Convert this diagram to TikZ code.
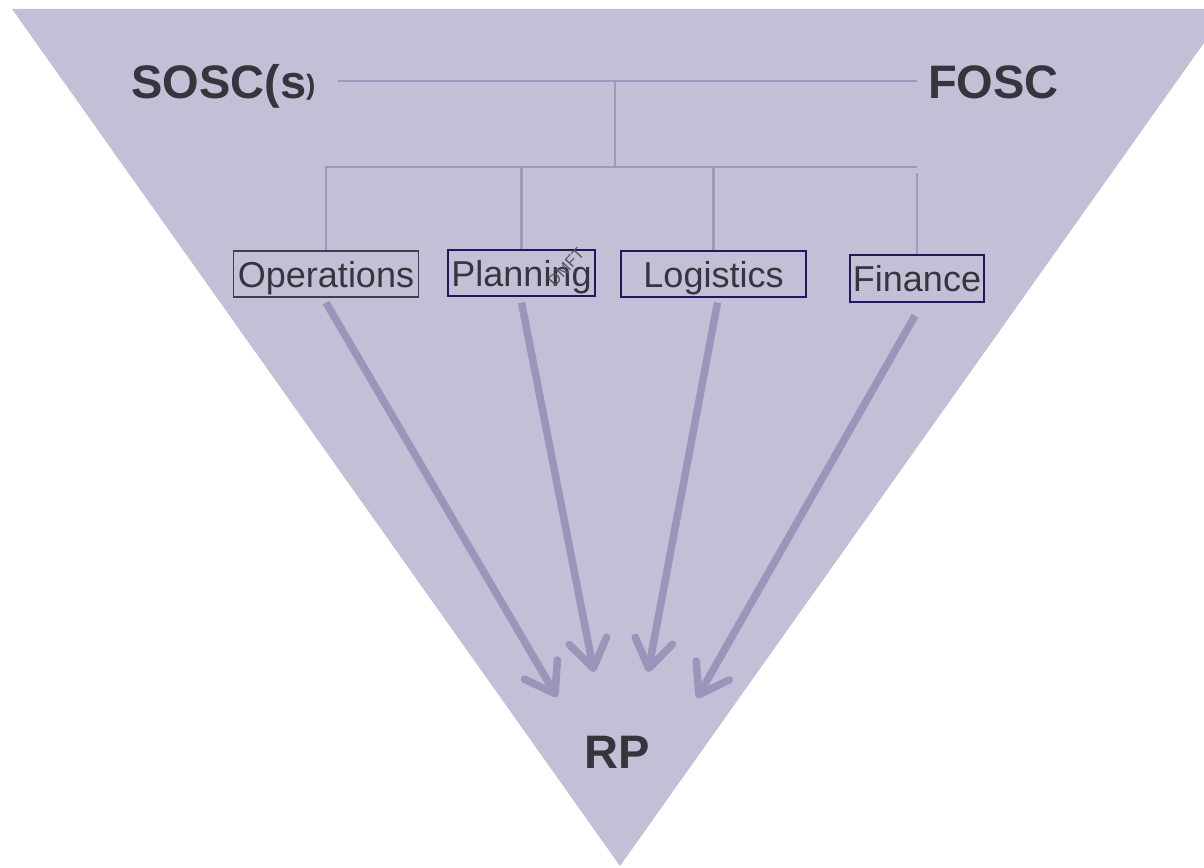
\documentclass[tikz,border=0pt]{standalone}
\usepackage{fontspec}
\setmainfont{Liberation Sans}
\usetikzlibrary{arrows.meta}
\definecolor{trifill}{HTML}{C4BFD6}
\definecolor{linec}{HTML}{9E98BE}
\definecolor{arrowc}{HTML}{9C94BB}
\definecolor{txt}{HTML}{33363D}
\definecolor{navy}{HTML}{1B1B5E}
\definecolor{boxgray}{HTML}{3C3F46}
\begin{document}
\begin{tikzpicture}[x=1pt,y=-1pt,
  conn/.style={draw=linec, line width=2.6pt},
  flow/.style={draw=arrowc, line width=7.5pt, -{Straight Barb[length=28pt,width=38pt,round]}},
  role/.style={draw, line width=1.3pt, text=txt, font=\fontsize{36}{40}\selectfont, inner sep=0pt, text height=26pt, text depth=0pt, anchor=center},
  head/.style={text=txt, font=\fontsize{47}{50}\selectfont\bfseries, inner sep=0pt}]
\useasboundingbox (0,0) rectangle (1204,867);
\clip (0,0) rectangle (1204,867);
\fill[trifill] (12,9) -- (1228,9) -- (620,866) -- cycle;

\node[role, draw=boxgray, minimum width=185pt, minimum height=46pt] (ops) at (326,274) {Operations};
\node[role, draw=navy, minimum width=147pt, minimum height=46pt] (plan) at (521.5,273) {Planning};
\node[role, draw=navy, minimum width=185pt, minimum height=46pt] (log) at (713.5,274) {Logistics};
\node[role, draw=navy, minimum width=134pt, minimum height=47pt] (fin) at (917,278.5) {Finance};

\node[head, anchor=base west] (sosc) at (131,98) {SOSC(s\raisebox{3.5pt}{\fontsize{28}{30}\selectfont )}};
\node[head, anchor=base west] (fosc) at (928,98) {FOSC};
\node[head, anchor=base] (rp) at (617,768) {RP};

\node[text=txt!85, font=\fontsize{16}{16}\selectfont, rotate=47, inner sep=0pt] (wm) at (566,267) {DMFT};

\coordinate (l0) at (338,81);
\coordinate (r0) at (917,81);
\coordinate (j1) at (615,81);
\coordinate (j2) at (615,167);
\coordinate (bl) at (324.5,167);
\coordinate (br) at (917,167);
\coordinate (fb) at (917,173);
\draw[conn] (l0) -- (r0);
\draw[conn] (j1) -- (j2);
\draw[conn] (bl) -- (br);
\draw[conn] (ops.north |- bl) -- (ops.north);
\draw[conn] (plan.north |- bl) -- (plan.north);
\draw[conn] (log.north |- bl) -- (log.north);
\draw[conn] (fin.north |- fb) -- (fin.north);

\coordinate (t1) at (557,697);
\coordinate (t2) at (594,672);
\coordinate (t3) at (648,672);
\coordinate (t4) at (697,698);
\draw[flow] ([yshift=-5pt]ops.south) -- (t1);
\draw[flow] ([yshift=-6pt]plan.south) -- (t2);
\draw[flow] ([xshift=4pt,yshift=-5pt]log.south) -- (t3);
\draw[flow] ([xshift=-2pt,yshift=-13pt]fin.south) -- (t4);
\end{tikzpicture}
\end{document}
